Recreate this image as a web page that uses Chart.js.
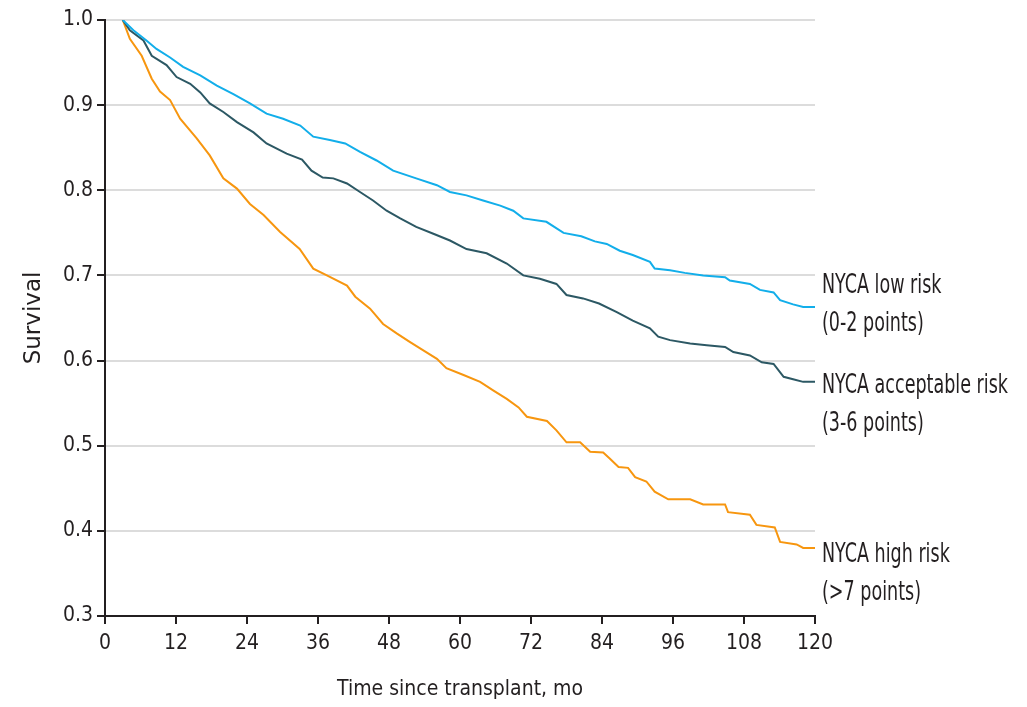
<!DOCTYPE html>
<html>
<head>
<meta charset="utf-8">
<title>Survival by NYCA risk group</title>
<script src="https://cdn.jsdelivr.net/npm/chart.js@4.4.1/dist/chart.umd.min.js"></script>
<style>
  html, body { margin: 0; padding: 0; background: #ffffff; }
  canvas { display: block; }
</style>
</head>
<body>
<canvas id="km" width="1027" height="707"></canvas>
<script>
// Kaplan-Meier survival estimates, months since transplant
const lowRiskMonths = [3, 4.8, 7.0, 8.7, 11.0, 13.2, 16.1, 18.9, 21.7, 24.5, 27.3, 30.1, 33.0, 35.2, 38.0, 40.6, 43.1, 45.9, 48.7, 52.6, 56.1, 58.3, 61.1, 63.9, 66.8, 69.0, 70.7, 74.6, 77.5, 80.5, 82.8, 84.8, 87.0, 89.2, 92.1, 92.9, 95.5, 98.0, 101.1, 104.8, 105.6, 109.0, 110.7, 113.0, 114.1, 116.3, 118.0, 120];
const lowRiskSurvival = [1.0, 0.988, 0.976, 0.966, 0.956, 0.945, 0.935, 0.923, 0.913, 0.902, 0.890, 0.884, 0.876, 0.863, 0.859, 0.855, 0.845, 0.835, 0.823, 0.814, 0.806, 0.798, 0.794, 0.788, 0.782, 0.776, 0.767, 0.763, 0.750, 0.746, 0.740, 0.737, 0.729, 0.724, 0.716, 0.708, 0.706, 0.703, 0.700, 0.698, 0.694, 0.690, 0.683, 0.680, 0.671, 0.666, 0.663, 0.663];

const acceptableRiskMonths = [3, 4.2, 6.5, 7.9, 10.4, 12.1, 14.4, 16.1, 17.7, 20.0, 22.3, 25.1, 27.3, 30.7, 33.3, 34.9, 36.8, 38.6, 40.9, 43.1, 45.3, 47.6, 49.9, 52.6, 55.5, 58.3, 61.1, 64.5, 67.9, 70.7, 73.5, 76.3, 78.0, 80.8, 83.5, 86.5, 89.2, 92.1, 93.5, 95.5, 98.9, 101.7, 104.8, 106.2, 109.0, 111.0, 113.0, 114.7, 116.3, 118.0, 120];
const acceptableRiskSurvival = [1.0, 0.988, 0.976, 0.958, 0.947, 0.933, 0.925, 0.915, 0.902, 0.892, 0.880, 0.868, 0.855, 0.843, 0.836, 0.823, 0.815, 0.814, 0.808, 0.798, 0.788, 0.776, 0.767, 0.757, 0.749, 0.741, 0.731, 0.726, 0.714, 0.700, 0.696, 0.690, 0.677, 0.673, 0.667, 0.657, 0.647, 0.638, 0.628, 0.624, 0.620, 0.618, 0.616, 0.610, 0.606, 0.598, 0.596, 0.581, 0.578, 0.575, 0.575];

const highRiskMonths = [3, 4.2, 6.2, 7.9, 9.3, 11.0, 12.7, 15.5, 17.7, 20.0, 22.3, 24.5, 26.8, 29.6, 32.9, 35.2, 37.5, 40.9, 42.3, 44.8, 47.0, 49.3, 51.5, 53.8, 56.1, 57.7, 60.6, 63.4, 65.6, 67.9, 69.9, 71.3, 74.7, 76.3, 78.0, 80.3, 82.0, 84.2, 85.3, 86.8, 88.4, 89.6, 91.5, 92.9, 95.2, 98.9, 101.1, 104.8, 105.3, 109.0, 110.1, 113.2, 114.1, 116.9, 118.0, 120];
const highRiskSurvival = [1.0, 0.978, 0.958, 0.931, 0.916, 0.906, 0.884, 0.861, 0.841, 0.814, 0.802, 0.784, 0.771, 0.751, 0.731, 0.708, 0.700, 0.688, 0.675, 0.661, 0.643, 0.632, 0.622, 0.612, 0.602, 0.591, 0.583, 0.575, 0.565, 0.555, 0.545, 0.534, 0.529, 0.518, 0.504, 0.504, 0.493, 0.492, 0.485, 0.475, 0.474, 0.463, 0.458, 0.446, 0.437, 0.437, 0.431, 0.431, 0.422, 0.419, 0.407, 0.404, 0.387, 0.384, 0.380, 0.380];

// Axis ticks
const monthTicks = [0, 12, 24, 36, 48, 60, 72, 84, 96, 108, 120];
const survivalTicks = [0.3, 0.4, 0.5, 0.6, 0.7, 0.8, 0.9, 1.0];

// Group labels at the right end of each curve
const groupNames = ['NYCA low risk', 'NYCA acceptable risk', 'NYCA high risk'];
const groupPoints = ['(0-2 points)', '(3-6 points)', '(>7 points)'];
// survival-axis value at which each label's first line sits
const groupLabelAt = [0.679, 0.562, 0.364];

const condensedFont = "'DejaVu Sans Condensed', 'Liberation Sans Narrow', sans-serif";
const inkColor = '#231f20';
const seriesColors = ['#12aeea', '#2c5864', '#f7960f'];

function toPoints(xs, ys) {
  return xs.map((x, i) => ({ x: x, y: ys[i] }));
}

// Two-line names beside the curve ends, set in a narrow face
const groupLabels = {
  id: 'groupLabels',
  afterDatasetsDraw(chart) {
    const { ctx, chartArea, scales } = chart;
    const squeeze = 0.75;
    ctx.save();
    ctx.fillStyle = inkColor;
    ctx.font = '26px ' + condensedFont;
    ctx.textAlign = 'left';
    ctx.textBaseline = 'alphabetic';
    const x = chartArea.right + 7;
    groupNames.forEach((name, i) => {
      const y = scales.y.getPixelForValue(groupLabelAt[i]);
      ctx.save();
      ctx.translate(x, y);
      ctx.scale(squeeze, 1);
      ctx.fillText(name, 0, 0);
      ctx.fillText(groupPoints[i], 0, 38);
      ctx.restore();
    });
    ctx.restore();
  }
};

new Chart(document.getElementById('km'), {
  type: 'line',
  data: {
    datasets: [
      { label: groupNames[0], data: toPoints(lowRiskMonths, lowRiskSurvival), borderColor: seriesColors[0] },
      { label: groupNames[1], data: toPoints(acceptableRiskMonths, acceptableRiskSurvival), borderColor: seriesColors[1] },
      { label: groupNames[2], data: toPoints(highRiskMonths, highRiskSurvival), borderColor: seriesColors[2] }
    ]
  },
  options: {
    responsive: false,
    animation: false,
    devicePixelRatio: 1,
    layout: { padding: { top: 20, right: 212, bottom: 0, left: 0 } },
    elements: {
      line: { borderWidth: 2, tension: 0, fill: false, borderJoinStyle: 'miter' },
      point: { radius: 0, hoverRadius: 0 }
    },
    plugins: {
      legend: { display: false },
      tooltip: { enabled: false },
      title: { display: false }
    },
    scales: {
      x: {
        type: 'linear',
        min: 0,
        max: 120,
        afterBuildTicks(scale) { scale.ticks = monthTicks.map(v => ({ value: v })); },
        afterFit(scale) { scale.height = 91; },
        border: { display: true, color: inkColor, width: 2 },
        grid: { drawOnChartArea: false, drawTicks: true, tickLength: 8, tickColor: inkColor, lineWidth: 2 },
        ticks: { color: inkColor, font: { family: condensedFont, size: 21 }, padding: 7, maxRotation: 0 },
        title: {
          display: true,
          text: 'Time since transplant, mo',
          color: inkColor,
          font: { family: condensedFont, size: 21 },
          padding: { top: 0, bottom: 5 }
        }
      },
      y: {
        type: 'linear',
        min: 0.3,
        max: 1.0,
        afterBuildTicks(scale) { scale.ticks = survivalTicks.map(v => ({ value: v })); },
        afterFit(scale) { scale.width = 105; },
        border: { display: true, color: inkColor, width: 2 },
        grid: {
          drawOnChartArea: true,
          drawTicks: true,
          tickLength: 8,
          lineWidth: 2,
          color: ctx => (ctx.tick && Math.abs(ctx.tick.value - 0.3) < 1e-9 ? 'rgba(0,0,0,0)' : '#dcdcdc'),
          tickColor: inkColor
        },
        ticks: {
          color: inkColor,
          font: { family: condensedFont, size: 21 },
          padding: 4,
          callback: v => Number(v).toFixed(1)
        },
        title: {
          display: true,
          text: 'Survival',
          color: inkColor,
          font: { family: "'DejaVu Sans', sans-serif", size: 23 },
          padding: { top: 20, bottom: 0 }
        }
      }
    }
  },
  plugins: [groupLabels]
});
</script>
</body>
</html>
